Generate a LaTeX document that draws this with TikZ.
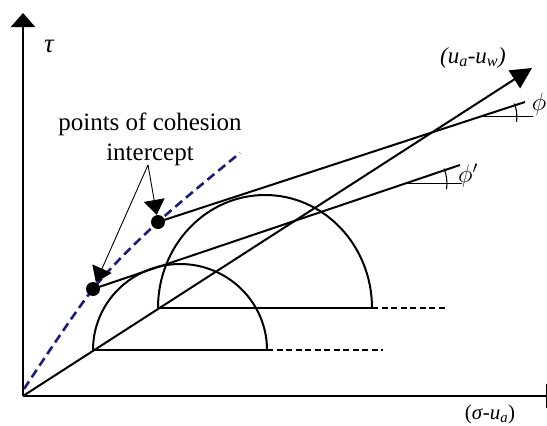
\documentclass[tikz,border=0pt]{standalone}
\usepackage{fontspec}
\setmainfont{Liberation Serif}
\usetikzlibrary{arrows.meta,calc}
\definecolor{navyd}{RGB}{25,30,120}
\begin{document}
\begin{tikzpicture}[x=1pt,y=-1pt,
  axis/.style={line width=2.5pt},
  curve/.style={line width=2pt},
  ext/.style={line width=1.5pt, dash pattern=on 6pt off 3.5pt},
  thinarc/.style={line width=1.1pt},
  leader/.style={line width=0.9pt,-{Triangle[length=15pt,width=21pt]}},
  dot/.style={circle,fill=black,inner sep=0pt,minimum size=14pt},
  lbl/.style={inner sep=0pt},
  bigtxt/.style={lbl,font=\fontsize{25}{30}\selectfont},
  symtxt/.style={lbl,font=\fontsize{27}{30}\selectfont}]
\useasboundingbox (0,0) rectangle (547,426);
% axes
\coordinate (O) at (23,396);
\coordinate (ytip) at (23,13);
\coordinate (xtip) at (560,396);
\draw[axis,-{Triangle[length=14pt,width=24pt]}] (O) -- (ytip);
\draw[axis,-{Triangle[length=14pt,width=24pt]}] (O) -- (xtip);
% blue dashed curve
\draw[navyd,line width=2.6pt,dash pattern=on 9pt off 5pt]
  plot[smooth] coordinates {(24,389) (93,289) (158,222) (240,153)};
% semicircles and bases
\coordinate (c1l) at (93,350);
\coordinate (c1r) at (267,350);
\coordinate (c1e) at (383,350);
\coordinate (c2l) at (158,308);
\coordinate (c2r) at (372,308);
\coordinate (c2e) at (447,308);
\draw[curve] (c1l) arc[start angle=180,end angle=360,x radius=87,y radius=86];
\draw[curve] (c2l) arc[start angle=180,end angle=360,x radius=107,y radius=113];
\draw[curve] (c1l) -- (c1r);
\draw[curve] (c2l) -- (c2r);
\draw[ext] (c1r) -- (c1e);
\draw[ext] (c2r) -- (c2e);
% stress path
\coordinate (st) at (532,68);
\draw[curve,-{Triangle[length=21pt,width=21pt]}] (O) -- (st);
% cohesion points
\node[dot] (p1) at (93,289) {};
\node[dot] (p2) at (158,222) {};
% envelopes
\coordinate (e1) at (460,165);
\coordinate (e2) at (525,102);
\draw[curve] (p1.center) -- (e1);
\draw[curve] (p2.center) -- (e2);
% angle phi'
\coordinate (a1) at ($(p1.center)!0.85!(e1)$);
\coordinate (h1) at ($(a1)+(57,0)$);
\draw[thinarc] (a1) -- (h1);
\draw[thinarc] ($(a1)+(8:42)$) arc[start angle=8,end angle=-21,radius=42];
% angle phi
\coordinate (a2) at ($(p2.center)!0.877!(e2)$);
\coordinate (h2) at ($(a2)+(53,0)$);
\draw[thinarc] (a2) -- (h2);
\draw[thinarc] ($(a2)+(8:37)$) arc[start angle=8,end angle=-21,radius=37];
% labels
\node[symtxt] (tau) at (49,46) {\itshape τ};
\node[symtxt] (phi) at (539,104) {$\phi$};
\node[symtxt] (phip) at (468,176) {$\phi'$};
\node[lbl,font=\fontsize{23}{26}\selectfont,anchor=base] (uauw) at (473,63)
  {\itshape (u\textsubscript{a}-u\textsubscript{w})};
\node[lbl,font=\fontsize{21}{24}\selectfont,anchor=base] (sua) at (490,419)
  {(\textit{σ}-\textit{u}\textsubscript{\textit{a}})};
% text and leaders
\node[bigtxt,anchor=base] (t1) at (150,130) {points of cohesion};
\node[bigtxt,anchor=base] (t2) at (150,160) {intercept};
\coordinate (ls) at (148,165);
\draw[leader] (ls) -- (p2);
\draw[leader] (ls) -- (p1);
\end{tikzpicture}
\end{document}
